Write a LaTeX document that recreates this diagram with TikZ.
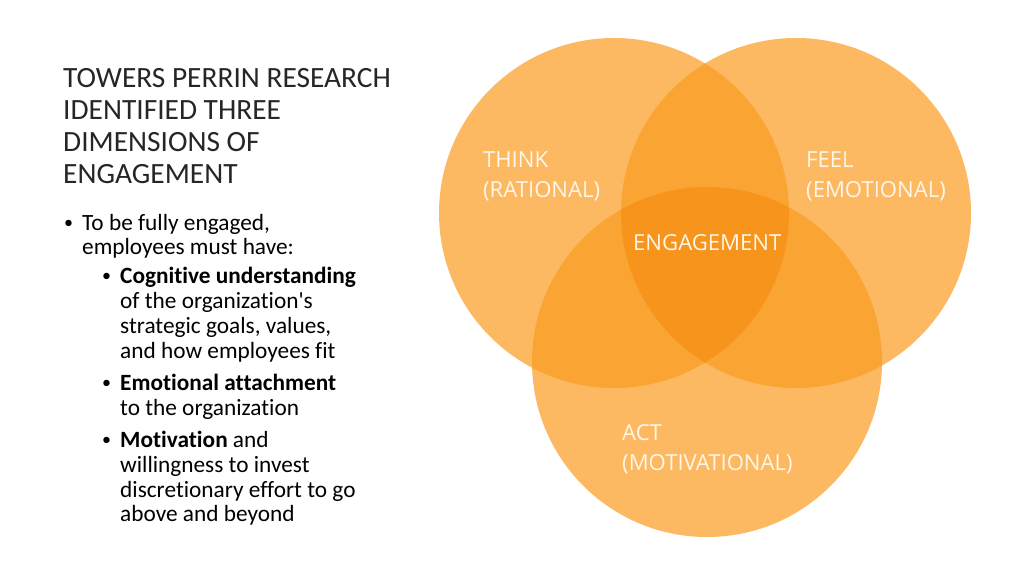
\documentclass[tikz,border=0pt]{standalone}
\usepackage{fontspec}
\setmainfont{Carlito}
\newfontfamily\bodyfont{Carlito}[Ligatures=NoCommon]
\newfontfamily\vennfont{Open Sans}
\definecolor{cone}{RGB}{253,185,98}
\definecolor{ctwo}{RGB}{250,164,52}
\definecolor{cthree}{RGB}{247,148,28}
\definecolor{titlecol}{RGB}{38,38,38}
\definecolor{vtext}{RGB}{255,246,232}
\tikzset{
  ttl/.style={anchor=base west, inner sep=0pt, font=\bodyfont\fontsize{29.4}{32}\selectfont, text=titlecol},
  body/.style={anchor=base west, inner sep=0pt, font=\bodyfont\fontsize{23.3}{25}\selectfont, text=black},
  bul/.style={anchor=base west, inner sep=0pt, font=\bodyfont\fontsize{18}{20}\selectfont, text=black},
  vlab/.style={anchor=base west, inner sep=0pt, font=\vennfont\fontsize{22.1}{26}\selectfont, text=vtext},
}
\begin{document}
\begin{tikzpicture}[x=1pt,y=-1pt]
\useasboundingbox (0,0) rectangle (1024,576);
\fill[white] (0,0) rectangle (1024,576);
% circles
\def\R{175}
\coordinate (cl) at (614,213);
\coordinate (cr) at (796,213);
\coordinate (cb) at (707,362);
\fill[cone] (cl) circle (\R);
\fill[cone] (cr) circle (\R);
\fill[cone] (cb) circle (\R);
\begin{scope}
  \clip (cl) circle (\R);
  \fill[ctwo] (cr) circle (\R);
  \fill[ctwo] (cb) circle (\R);
\end{scope}
\begin{scope}
  \clip (cr) circle (\R);
  \fill[ctwo] (cb) circle (\R);
\end{scope}
\begin{scope}
  \clip (cl) circle (\R);
  \clip (cr) circle (\R);
  \fill[cthree] (cb) circle (\R);
\end{scope}
% venn labels
\node[vlab] (think) at (483,167) {THINK};
\node[vlab] (rat) at (483,197) {(RATIONAL)};
\node[vlab] (feel) at (806,167) {FEEL};
\node[vlab] (emo) at (806,197) {(EMOTIONAL)};
\node[vlab] (eng) at (633,250) {ENGAGEMENT};
\node[vlab] (act) at (622,440) {ACT};
\node[vlab] (mot) at (622,470) {(MOTIVATIONAL)};
% title
\node[ttl] (t1) at (63,87) {TOWERS PERRIN RESEARCH};
\node[ttl] (t2) at (63,119) {IDENTIFIED THREE};
\node[ttl] (t3) at (63,151) {DIMENSIONS OF};
\node[ttl] (t4) at (63,183) {ENGAGEMENT};
% body
\node[bul] (b0) at (64,228) {•};
\node[body] (b1) at (82,230) {To be fully engaged,};
\node[body] (b2) at (82,254) {employees must have:};
\node[bul] (s1b) at (102,281) {•};
\node[body] (s1a) at (120,283) {\textbf{Cognitive understanding}};
\node[body] (s1c) at (120,308) {of the organization's};
\node[body] (s1d) at (120,333) {strategic goals, values,};
\node[body] (s1e) at (120,358) {and how employees fit};
\node[bul] (s2b) at (102,388) {•};
\node[body] (s2a) at (120,390) {\textbf{Emotional attachment}};
\node[body] (s2c) at (120,415) {to the organization};
\node[bul] (s3b) at (102,445) {•};
\node[body] (s3a) at (120,447) {\textbf{Motivation} and};
\node[body] (s3c) at (120,472) {willingness to invest};
\node[body] (s3d) at (120,497) {discretionary effort to go};
\node[body] (s3e) at (120,521) {above and beyond};
\end{tikzpicture}
\end{document}
